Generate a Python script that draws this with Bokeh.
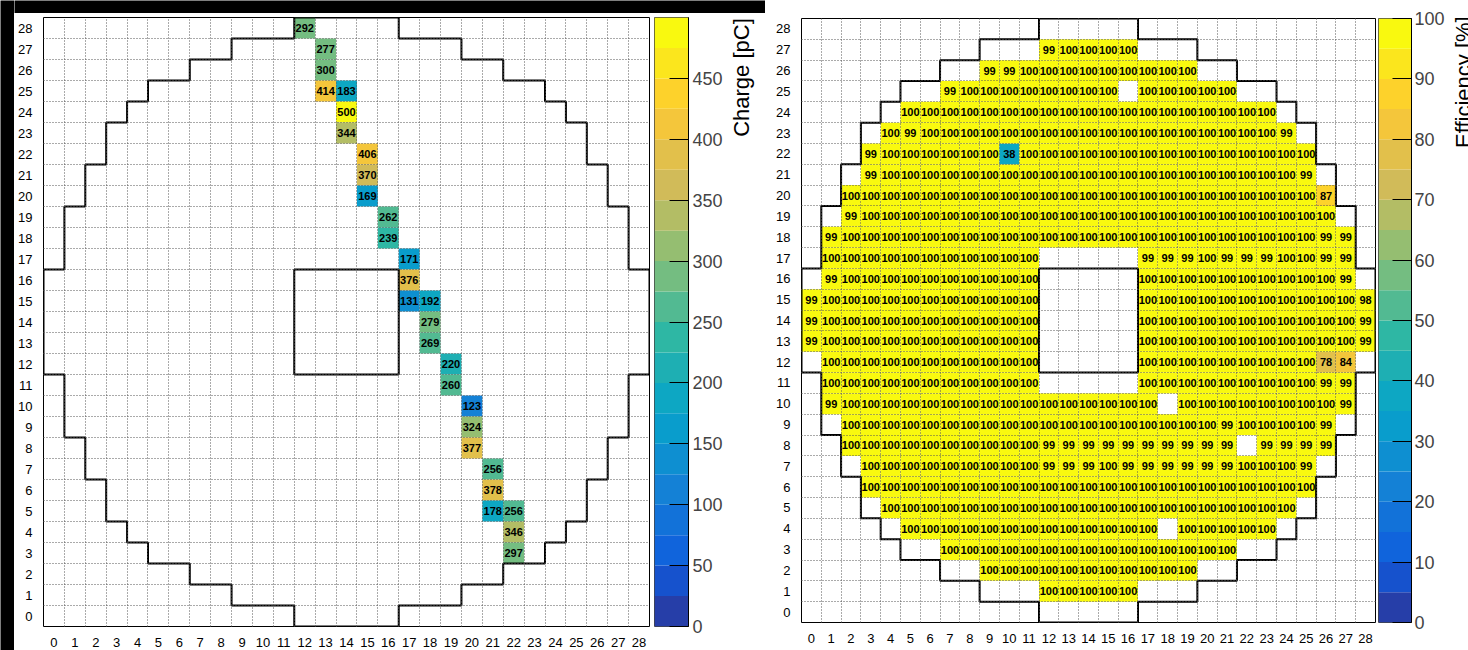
import math
import numpy as np
from bokeh.plotting import figure
from bokeh.layouts import row, column
from bokeh.models import FixedTicker
from bokeh.transform import linear_cmap
from bokeh.core.properties import value
from bokeh.embed import file_html
from bokeh.resources import INLINE

N = None
# ---------------- data ----------------
cols = [0, 1, 2, 3, 4, 5, 6, 7, 8, 9, 10, 11, 12, 13, 14, 15, 16, 17, 18, 19, 20, 21, 22, 23, 24, 25, 26, 27, 28]
rows = [0, 1, 2, 3, 4, 5, 6, 7, 8, 9, 10, 11, 12, 13, 14, 15, 16, 17, 18, 19, 20, 21, 22, 23, 24, 25, 26, 27, 28]

# detector outline: first / last column inside the boundary, per row 0..28
outline_first = [12, 9, 7, 5, 4, 3, 3, 2, 2, 1, 1, 1, 0, 0, 0, 0, 0, 1, 1, 1, 2, 2, 3, 3, 4, 5, 7, 9, 12]
outline_last = [16, 19, 21, 23, 24, 25, 25, 26, 26, 27, 27, 27, 28, 28, 28, 28, 28, 27, 27, 27, 26, 26, 25, 25, 24, 23, 21, 19, 16]
hole_cols = [12, 16]
hole_rows = [12, 16]

# left panel: charge of the track cells
charge_col = [12, 13, 13, 13, 14, 14, 14, 15, 15, 15, 16, 16, 17, 17, 17, 18, 18, 18, 19, 19, 20, 20, 20, 21, 21, 21, 22, 22, 22]
charge_row = [28, 27, 26, 25, 25, 24, 23, 22, 21, 20, 19, 18, 17, 16, 15, 15, 14, 13, 12, 11, 10, 9, 8, 7, 6, 5, 5, 4, 3]
charge_pc = [292, 277, 300, 414, 183, 500, 344, 406, 370, 169, 262, 239, 171, 376, 131, 192, 279, 269, 220, 260, 123, 324, 377, 256, 378, 178, 256, 346, 297]
charge_max = 500
charge_ticks = [0, 50, 100, 150, 200, 250, 300, 350, 400, 450]

# right panel: efficiency per cell, first column of each row 0..28
eff_first_col = [0, 12, 9, 7, 5, 4, 3, 3, 2, 2, 1, 1, 1, 0, 0, 0, 1, 1, 1, 2, 2, 3, 3, 4, 5, 7, 9, 12, 0]
eff_table = [
    [],
    [100, 100, 100, 100, 100],
    [100, 100, 100, 100, 100, 100, 100, 100, 100, 100,
     100],
    [100, 100, 100, 100, 100, 100, 100, 100, 100, 100,
     100, 100, 100, 100, 100],
    [100, 100, 100, 100, 100, 100, 100, 100, 100, 100,
     100, 100, 100, N, 100, 100, 100, 100, 100],
    [100, 100, 100, 100, 100, 100, 100, 100, 100, 100,
     100, 100, 100, 100, 100, 100, 100, 100, 100, 100,
     100],
    [100, 100, 100, 100, 100, 100, 100, 100, 100, 100,
     100, 100, 100, 100, 100, 100, 100, 100, 100, 100,
     100, 100, 100],
    [100, 100, 100, 100, 100, 100, 100, 100, 100, 99,
     99, 99, 100, 99, 99, 99, 99, 99, 99, 100,
     100, 100, 99],
    [100, 100, 100, 100, 100, 100, 100, 100, 100, 100,
     99, 99, 99, 99, 99, 99, 99, 99, 99, 99,
     N, 99, 99, 99, 99],
    [100, 100, 100, 100, 100, 100, 100, 100, 100, 100,
     100, 100, 100, 100, 100, 100, 100, 100, 100, 99,
     100, 100, 100, 100, 99],
    [99, 100, 100, 100, 100, 100, 100, 100, 100, 100,
     100, 100, 100, 100, 100, 100, 100, N, 100, 100,
     100, 100, 100, 100, 100, 100, 99],
    [100, 100, 100, 100, 100, 100, 100, 100, 100, 100,
     100, N, N, N, N, N, 100, 100, 100, 100,
     100, 100, 100, 100, 100, 99, 99],
    [100, 100, 100, 100, 100, 100, 100, 100, 100, 100,
     100, N, N, N, N, N, 100, 100, 100, 100,
     100, 100, 100, 100, 100, 78, 84],
    [99, 100, 100, 100, 100, 100, 100, 100, 100, 100,
     100, 100, N, N, N, N, N, 100, 100, 100,
     100, 100, 100, 100, 100, 100, 100, 100, 99],
    [99, 100, 100, 100, 100, 100, 100, 100, 100, 100,
     100, 100, N, N, N, N, N, 100, 100, 100,
     100, 100, 100, 100, 100, 100, 100, 100, 99],
    [99, 100, 100, 100, 100, 100, 100, 100, 100, 100,
     100, 100, N, N, N, N, N, 100, 100, 100,
     100, 100, 100, 100, 100, 100, 100, 100, 98],
    [99, 100, 100, 100, 100, 100, 100, 100, 100, 100,
     100, N, N, N, N, N, 100, 100, 100, 100,
     100, 100, 100, 100, 100, 100, 99],
    [100, 100, 100, 100, 100, 100, 100, 100, 100, 100,
     100, N, N, N, N, N, 99, 99, 99, 100,
     99, 99, 99, 100, 100, 99, 99],
    [99, 100, 100, 100, 100, 100, 100, 100, 100, 100,
     100, 100, 100, 100, 100, 100, 100, 100, 100, 100,
     100, 100, 100, 100, 100, 99, 99],
    [99, 100, 100, 100, 100, 100, 100, 100, 100, 100,
     100, 100, 100, 100, 100, 100, 100, 100, 100, 100,
     100, 100, 100, 100, 100],
    [100, 100, 100, 100, 100, 100, 100, 100, 100, 100,
     100, 100, 100, 100, 100, 100, 100, 100, 100, 100,
     100, 100, 100, 100, 87],
    [99, 100, 100, 100, 100, 100, 100, 100, 100, 100,
     100, 100, 100, 100, 100, 100, 100, 100, 100, 100,
     100, 100, 99],
    [99, 100, 100, 100, 100, 100, 100, 38, 100, 100,
     100, 100, 100, 100, 100, 100, 100, 100, 100, 100,
     100, 100, 100],
    [100, 99, 100, 100, 100, 100, 100, 100, 100, 100,
     100, 100, 100, 100, 100, 100, 100, 100, 100, 100,
     99],
    [100, 100, 100, 100, 100, 100, 100, 100, 100, 100,
     100, 100, 100, 100, 100, 100, 100, 100, 100],
    [99, 100, 100, 100, 100, 100, 100, 100, 100, N,
     100, 100, 100, 100, 100],
    [99, 99, 100, 100, 100, 100, 100, 100, 100, 100,
     100],
    [99, 100, 100, 100, 100],
    [],
]
eff_max = 100
eff_ticks = [0, 10, 20, 30, 40, 50, 60, 70, 80, 90, 100]

# ---------------- palette (ROOT kBird, 20 contour levels) ----------------
def bird_palette(nlevels=20, ncolors=255):
    stops = [0.0, 0.125, 0.25, 0.375, 0.5, 0.625, 0.75, 0.875, 1.0]
    red = [0.2082, 0.0592, 0.0780, 0.0232, 0.1802, 0.5301, 0.8186, 0.9956, 0.9764]
    green = [0.1664, 0.3599, 0.5041, 0.6419, 0.7178, 0.7492, 0.7328, 0.7862, 0.9832]
    blue = [0.5293, 0.8684, 0.8385, 0.7914, 0.6425, 0.4662, 0.3499, 0.1968, 0.0539]
    table = []
    for g in range(1, len(stops)):
        n = int(math.floor(ncolors * stops[g]) - math.floor(ncolors * stops[g - 1]))
        for c in range(n):
            t = c / n
            table.append((red[g - 1] + t * (red[g] - red[g - 1]),
                          green[g - 1] + t * (green[g] - green[g - 1]),
                          blue[g - 1] + t * (blue[g] - blue[g - 1])))
    out = []
    for i in range(nlevels):
        k = min(int((i + 0.99) * ncolors / nlevels), ncolors - 1)
        r, g, b = table[k]
        out.append("#%02x%02x%02x" % (int(round(r * 255)), int(round(g * 255)), int(round(b * 255))))
    return out

PAL = bird_palette()
FONT = "Liberation Sans"


def main_panel(fw, fh, bl, bt, bb, br):
    p = figure(frame_width=fw, frame_height=fh, x_range=(-0.5, 28.5), y_range=(-0.5, 28.5),
               min_border_left=bl, min_border_top=bt, min_border_bottom=bb, min_border_right=br,
               toolbar_location=None, tools="", output_backend="svg")
    p.xaxis.ticker = FixedTicker(ticks=cols)
    p.yaxis.ticker = FixedTicker(ticks=rows)
    for ax in (p.xaxis[0], p.yaxis[0]):
        ax.major_tick_line_color = None
        ax.minor_tick_line_color = None
        ax.axis_line_color = None
        ax.major_label_text_font = FONT
        ax.major_label_text_font_size = "13px"
        ax.major_label_text_color = "black"
        ax.major_label_standoff = 5
    bounds = [c + 0.5 for c in cols[:-1]]
    p.xgrid.ticker = FixedTicker(ticks=bounds)
    p.ygrid.ticker = FixedTicker(ticks=bounds)
    for gr in (p.xgrid[0], p.ygrid[0]):
        gr.grid_line_color = "#555555"
        gr.grid_line_dash = "1 2"
        gr.grid_line_width = 1
        gr.level = "overlay"
    p.outline_line_color = "black"
    p.outline_line_width = 1
    p.background_fill_color = "white"
    p.border_fill_color = "white"
    return p


def add_outline(p):
    px, py = [], []
    for r in rows:
        hi = outline_last[r] + 0.5
        px += [hi, hi]
        py += [r - 0.5, r + 0.5]
    for r in reversed(rows):
        lo = outline_first[r] - 0.5
        px += [lo, lo]
        py += [r + 0.5, r - 0.5]
    p.patch(px, py, fill_color=None, line_color="black", line_width=2)
    p.quad(left=[hole_cols[0] - 0.5], right=[hole_cols[1] + 0.5],
           bottom=[hole_rows[0] - 0.5], top=[hole_rows[1] + 0.5],
           fill_color=None, line_color="black", line_width=2)


def add_cells(p, xs, ys, vals, vmax):
    src = dict(x=xs, y=ys, v=vals, t=[str(v) for v in vals])
    p.rect("x", "y", width=1, height=1, source=src,
           fill_color=linear_cmap("v", PAL, 0, vmax), line_color=None)
    p.text("x", "y", text="t", source=src, text_align="center", text_baseline="middle",
           text_font=value(FONT), text_font_style="bold", text_font_size="11px", text_color="black")


def color_bar(fw, fh, vmax, ticks, bl, bt, bb, br, standoff):
    cb = figure(frame_width=fw, frame_height=fh, x_range=(0, 1), y_range=(0, vmax),
                x_axis_location=None, y_axis_location="right",
                min_border_left=bl, min_border_top=bt, min_border_bottom=bb, min_border_right=br,
                toolbar_location=None, tools="", output_backend="svg")
    edges = np.linspace(0, vmax, len(PAL) + 1)
    cb.quad(left=0, right=1, bottom=edges[:-1], top=edges[1:], fill_color=PAL, line_color=None)
    cb.xgrid.visible = False
    cb.ygrid.visible = False
    ax = cb.yaxis[0]
    ax.ticker = FixedTicker(ticks=ticks)
    ax.major_tick_in = 19
    ax.major_tick_out = 0
    ax.major_tick_line_color = "black"
    ax.minor_tick_line_color = None
    ax.axis_line_color = "black"
    ax.major_label_text_font = FONT
    ax.major_label_text_font_size = "18px"
    ax.major_label_standoff = standoff
    cb.outline_line_color = "#444444"
    return cb


def title_strip(fh, title, pad, bl, bt, bb, br):
    # a thin figure whose left axis carries only the colour-bar title (reads upwards);
    # leading no-break spaces push the centred title towards the top of the bar
    t = figure(frame_width=1, frame_height=fh, x_range=(0, 1), y_range=(0, 1),
               x_axis_location=None, y_axis_location="left",
               min_border_left=bl, min_border_top=bt, min_border_bottom=bb, min_border_right=br,
               toolbar_location=None, tools="", output_backend="svg")
    t.xgrid.visible = False
    t.ygrid.visible = False
    t.outline_line_color = None
    ax = t.yaxis[0]
    ax.ticker = FixedTicker(ticks=[])
    ax.major_tick_line_color = None
    ax.minor_tick_line_color = None
    ax.axis_line_color = None
    ax.major_label_standoff = 0
    ax.axis_label = "\u00a0" * pad + title
    ax.axis_label_text_font = FONT
    ax.axis_label_text_font_size = "22px"
    ax.axis_label_text_font_style = "normal"
    ax.axis_label_text_color = "black"
    ax.axis_label_standoff = 1
    return t


def black_bar(w, h):
    b = figure(width=w, height=h, toolbar_location=None, tools="", output_backend="svg",
               x_axis_location=None, y_axis_location=None,
               min_border=0, min_border_left=0, min_border_right=0, min_border_top=0, min_border_bottom=0)
    b.background_fill_color = "black"
    b.border_fill_color = "black"
    b.outline_line_color = None
    b.grid.visible = False
    return b


# ---------------- left panel ----------------
pL = main_panel(606, 609, 29, 4, 24, 3)
add_cells(pL, charge_col, charge_row, charge_pc, charge_max)
add_outline(pL)
cbL = color_bar(34, 609, charge_max, charge_ticks, 2, 4, 24, 34, 4)
tL = title_strip(609, "Charge [pC]", 80, 27, 4, 24, 14)

# ---------------- right panel ----------------
ex, ey, ev = [], [], []
for r in rows:
    c0 = eff_first_col[r]
    for i, v in enumerate(eff_table[r]):
        if v is not None:
            ex.append(c0 + i)
            ey.append(r)
            ev.append(v)

pR = main_panel(574, 604, 32, 13, 28, 2)
add_cells(pR, ex, ey, ev, eff_max)
add_outline(pR)
cbR = color_bar(33, 604, eff_max, eff_ticks, 1, 13, 28, 33, 3)
tR = title_strip(604, "Efficiency [%]", 78, 26, 13, 28, 0)

layout = row(
    black_bar(14, 650),
    column(black_bar(751, 13), row(pL, cbL, tL)),
    column(black_bar(703, 5), row(pR, cbR, tR)),
)

open("out.html", "w", encoding="utf-8").write(file_html(layout, INLINE))
